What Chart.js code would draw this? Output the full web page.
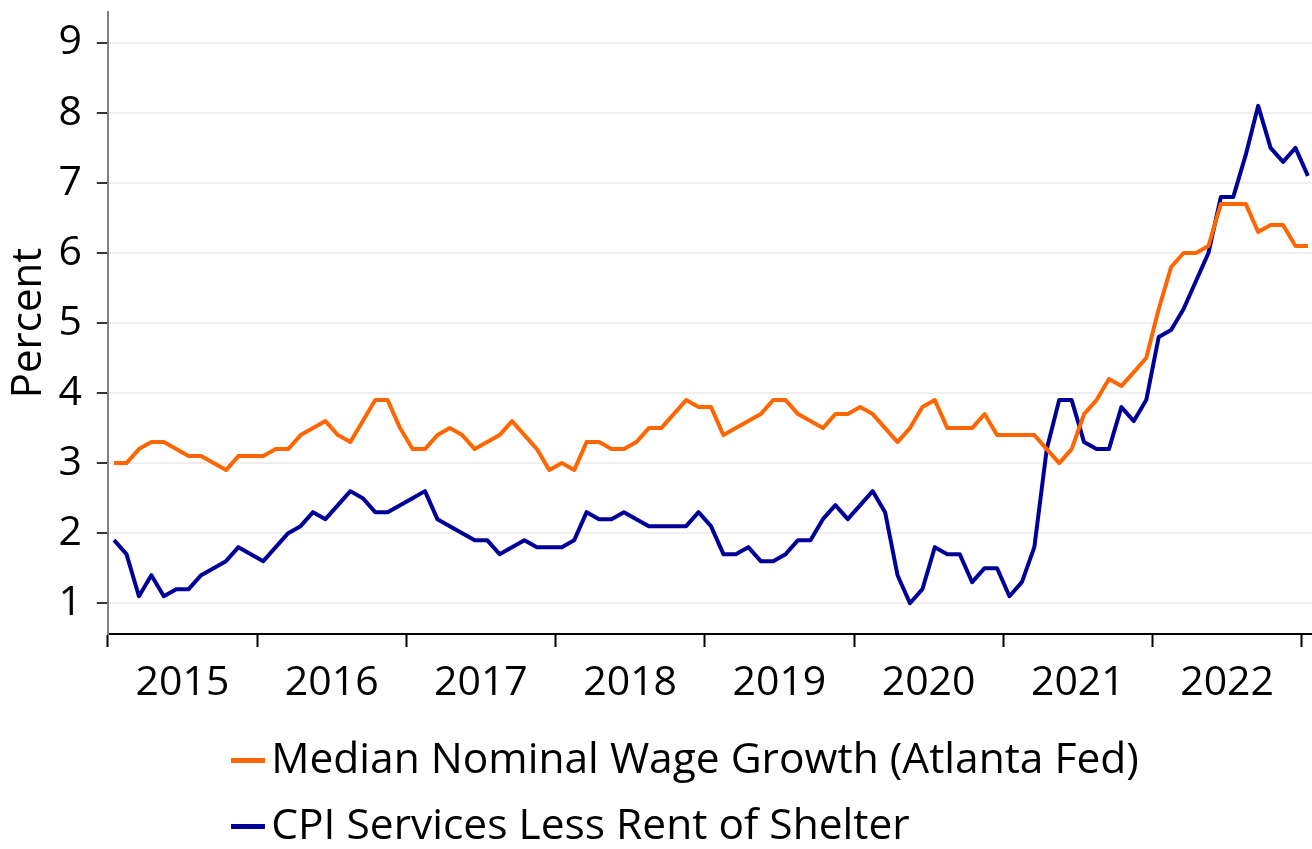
<!DOCTYPE html>
<html>
<head>
<meta charset="utf-8">
<title>Wage growth vs CPI services</title>
<script src="https://cdn.jsdelivr.net/npm/chart.js"></script>
<style>
  body { margin: 0; background: #fff; }
</style>
</head>
<body>
<canvas id="chart" width="1312" height="849"></canvas>
<script>
// monthly data, Jan 2015 .. Jan 2023
const startYear = 2015;
const years = [2015, 2016, 2017, 2018, 2019, 2020, 2021, 2022];
const yTicks = [1, 2, 3, 4, 5, 6, 7, 8, 9];

const wageGrowth = [
  3.0, 3.0, 3.2, 3.3, 3.3, 3.2, 3.1, 3.1, 3.0, 2.9, 3.1, 3.1,
  3.1, 3.2, 3.2, 3.4, 3.5, 3.6, 3.4, 3.3, 3.6, 3.9, 3.9, 3.5,
  3.2, 3.2, 3.4, 3.5, 3.4, 3.2, 3.3, 3.4, 3.6, 3.4, 3.2, 2.9,
  3.0, 2.9, 3.3, 3.3, 3.2, 3.2, 3.3, 3.5, 3.5, 3.7, 3.9, 3.8,
  3.8, 3.4, 3.5, 3.6, 3.7, 3.9, 3.9, 3.7, 3.6, 3.5, 3.7, 3.7,
  3.8, 3.7, 3.5, 3.3, 3.5, 3.8, 3.9, 3.5, 3.5, 3.5, 3.7, 3.4,
  3.4, 3.4, 3.4, 3.2, 3.0, 3.2, 3.7, 3.9, 4.2, 4.1, 4.3, 4.5,
  5.2, 5.8, 6.0, 6.0, 6.1, 6.7, 6.7, 6.7, 6.3, 6.4, 6.4, 6.1,
  6.1
];

const cpiServices = [
  1.9, 1.7, 1.1, 1.4, 1.1, 1.2, 1.2, 1.4, 1.5, 1.6, 1.8, 1.7,
  1.6, 1.8, 2.0, 2.1, 2.3, 2.2, 2.4, 2.6, 2.5, 2.3, 2.3, 2.4,
  2.5, 2.6, 2.2, 2.1, 2.0, 1.9, 1.9, 1.7, 1.8, 1.9, 1.8, 1.8,
  1.8, 1.9, 2.3, 2.2, 2.2, 2.3, 2.2, 2.1, 2.1, 2.1, 2.1, 2.3,
  2.1, 1.7, 1.7, 1.8, 1.6, 1.6, 1.7, 1.9, 1.9, 2.2, 2.4, 2.2,
  2.4, 2.6, 2.3, 1.4, 1.0, 1.2, 1.8, 1.7, 1.7, 1.3, 1.5, 1.5,
  1.1, 1.3, 1.8, 3.2, 3.9, 3.9, 3.3, 3.2, 3.2, 3.8, 3.6, 3.9,
  4.8, 4.9, 5.2, 5.6, 6.0, 6.8, 6.8, 7.4, 8.1, 7.5, 7.3, 7.5,
  7.1
];

const seriesNames = [
  'Median Nominal Wage Growth (Atlanta Fed)',
  'CPI Services Less Rent of Shelter'
];
const seriesColors = ['#ff6600', '#000099'];

// month index -> fractional year, placed mid-month
function toPoints(values) {
  return values.map((v, i) => ({ x: startYear + (i + 0.5) / 12, y: v }));
}

// short line used as legend marker
function lineMarker(color) {
  const c = document.createElement('canvas');
  c.width = 34;
  c.height = 5;
  const g = c.getContext('2d');
  g.fillStyle = color;
  g.fillRect(0, 0, c.width, c.height);
  return c;
}

// legend items sit left aligned as one block under the plot
const legendPlace = {
  id: 'legendPlace',
  afterLayout(chart) {
    chart.legend.left = 222;
    chart.legend.top += 9;
  }
};

Chart.defaults.font.family = "'Open Sans', sans-serif";
Chart.defaults.font.size = 41;
Chart.defaults.color = '#000';

const config = {
  type: 'line',
  data: {
    datasets: [{
      label: seriesNames[0],
      data: toPoints(wageGrowth),
      borderColor: seriesColors[0],
      backgroundColor: seriesColors[0],
      borderWidth: 4,
      pointRadius: 0,
      tension: 0,
      borderJoinStyle: 'round'
    }, {
      label: seriesNames[1],
      data: toPoints(cpiServices),
      borderColor: seriesColors[1],
      backgroundColor: seriesColors[1],
      borderWidth: 4,
      pointRadius: 0,
      tension: 0,
      borderJoinStyle: 'round'
    }]
  },
  options: {
    responsive: false,
    animation: false,
    layout: { padding: { top: 12, left: 0, right: 0, bottom: 0 } },
    plugins: {
      tooltip: { enabled: false },
      legend: {
        position: 'bottom',
        align: 'start',
        labels: {
          font: { size: 42.5 },
          usePointStyle: true,
          pointStyleWidth: 4.5,
          padding: 23.5,
          generateLabels(chart) {
            return Chart.defaults.plugins.legend.labels.generateLabels(chart).map((item, i) => {
              item.pointStyle = lineMarker(seriesColors[i]);
              item.lineWidth = 0;
              return item;
            });
          }
        }
      }
    },
    scales: {
      x: {
        type: 'linear',
        min: 2015,
        max: 2023.069,
        afterBuildTicks(scale) {
          scale.ticks = years.map(y => ({ value: y + 0.5 }));
        },
        ticks: {
          padding: 0,
          font: { lineHeight: 1.17 },
          maxRotation: 0,
          autoSkip: false,
          callback: (value, index) => String(years[index])
        },
        grid: {
          offset: true,
          drawOnChartArea: false,
          tickLength: 25,
          tickBorderDash: [12, 40],
          tickWidth: 2,
          tickColor: '#000'
        },
        border: { color: '#000', width: 2 }
      },
      y: {
        min: 0.56,
        max: 9.44,
        afterBuildTicks(scale) {
          scale.ticks = yTicks.map(v => ({ value: v }));
        },
        ticks: { padding: 0, font: { lineHeight: 0.5 } },
        grid: {
          color: '#efefef',
          lineWidth: 2,
          tickLength: 26,
          // tick is drawn from the label side; keep only the 11px next to the axis
          tickBorderDash: [0, 15, 11, 100],
          tickWidth: 2,
          tickColor: '#333'
        },
        border: { color: '#808080', width: 2 },
        title: { display: true, text: 'Percent', font: { size: 42 } }
      }
    }
  },
  plugins: [legendPlace]
};

new Chart(document.getElementById('chart'), config);
</script>
</body>
</html>
